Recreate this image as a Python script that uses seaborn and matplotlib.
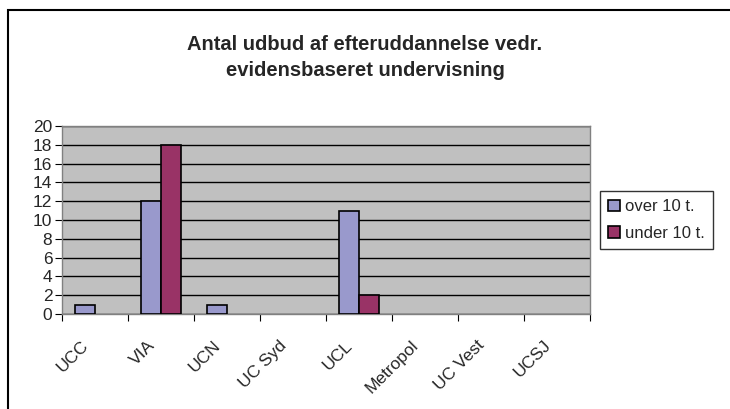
import pandas as pd
import seaborn as sns
import matplotlib
matplotlib.use('Agg')
import matplotlib.pyplot as plt
import matplotlib.transforms as mtransforms
from matplotlib.patches import Rectangle

schools = ['UCC', 'VIA', 'UCN', 'UC Syd', 'UCL', 'Metropol', 'UC Vest', 'UCSJ']
over_10 = [1, 12, 1, 0, 11, 0, 0, 0]
under_10 = [0, 18, 0, 0, 2, 0, 0, 0]
series = ['over 10 t.', 'under 10 t.']
colors = ['#9999CC', '#993366']

df = pd.DataFrame({
    'school': schools * 2,
    'serie': [series[0]] * len(schools) + [series[1]] * len(schools),
    'antal': over_10 + under_10,
})

sns.set_style('white')
plt.rcParams['font.family'] = ['Liberation Sans', 'DejaVu Sans']

fig = plt.figure(figsize=(7.3, 4.09), dpi=100)
ax = fig.add_axes([0.085, 0.232, 0.723, 0.46])

sns.barplot(data=df, x='school', y='antal', hue='serie', palette=colors,
            saturation=1, width=0.6, edgecolor='black', linewidth=1.2, ax=ax,
            legend=True, zorder=3)

# empty bars are not drawn in the original
for c in ax.containers:
    for p in c:
        if p.get_height() == 0:
            p.set_visible(False)

ax.set_facecolor('#C0C0C0')
ax.set_ylim(0, 20)
ax.set_yticks(range(0, 21, 2))
ax.yaxis.grid(True, color='black', linewidth=1, zorder=0)
ax.set_axisbelow(True)
for s in ax.spines.values():
    s.set_color('#808080')
    s.set_linewidth(1)

ax.set_xlim(-0.5, len(schools) - 0.5)
ax.set_xticks([i - 0.5 for i in range(len(schools) + 1)])
ax.set_xticklabels([])
ax.set_xticks(range(len(schools)), minor=True)
ax.set_xticklabels(schools, minor=True, rotation=45, ha='right',
                   rotation_mode='anchor', fontsize=12.5)
ax.tick_params(axis='x', which='major', direction='out', length=5,
               color='black', bottom=True)
ax.tick_params(axis='x', which='minor', length=0, pad=17)
ax.tick_params(axis='y', direction='out', length=5, color='black', left=True,
               labelsize=12.5, pad=2)
shift = mtransforms.ScaledTranslation(-10 / 72, 0, fig.dpi_scale_trans)
for lab in ax.get_xticklabels(minor=True):
    lab.set_transform(lab.get_transform() + shift)
ax.set_xlabel('')
ax.set_ylabel('')

leg = ax.legend(loc='center left', bbox_to_anchor=(1.01, 0.5), frameon=True,
                fancybox=False, edgecolor='black', fontsize=12,
                handlelength=0.7, handleheight=0.7, handletextpad=0.3,
                borderpad=0.5, labelspacing=0.7, borderaxespad=0.3)
leg.get_frame().set_linewidth(1)

fig.suptitle('Antal udbud af efteruddannelse vedr.\nevidensbaseret undervisning',
             x=0.5, y=0.915, fontsize=14.5, fontweight='bold', linespacing=1.45)

fig.patches.append(Rectangle((0.011, -0.05), 1.05, 1.025, transform=fig.transFigure,
                             fill=False, edgecolor='black', linewidth=1.5))

plt.savefig('out.png', dpi=100)
